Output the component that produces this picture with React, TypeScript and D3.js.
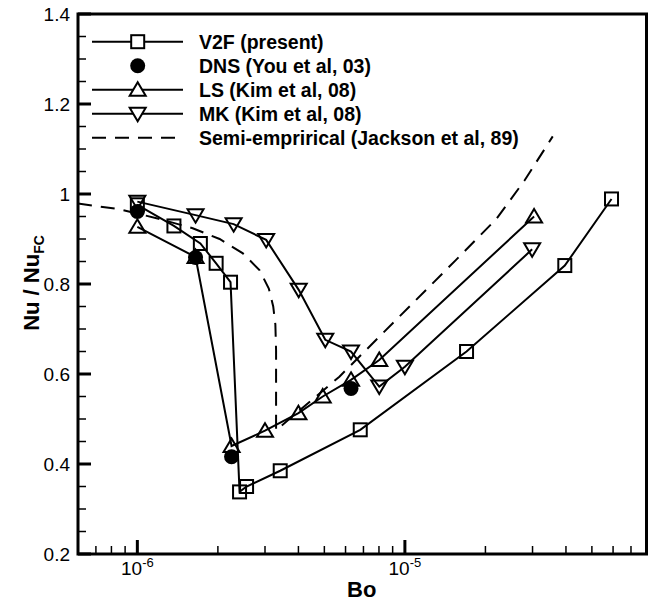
import * as d3 from "d3";

// Bo (x) / Nu/Nu_FC (y) values
const v2fBo = [1.0e-6, 1.37e-6, 1.72e-6, 1.97e-6, 2.23e-6, 2.41e-6, 2.56e-6, 3.42e-6, 6.81e-6, 1.7e-5, 3.96e-5, 5.92e-5];
const v2fNu = [0.976, 0.929, 0.89, 0.846, 0.804, 0.338, 0.35, 0.385, 0.476, 0.65, 0.841, 0.989];

const dnsBo = [1.0e-6, 1.65e-6, 2.25e-6, 6.29e-6];
const dnsNu = [0.961, 0.859, 0.416, 0.568];

const lsBo = [1.0e-6, 1.65e-6, 2.25e-6, 3.0e-6, 4.0e-6, 4.93e-6, 6.29e-6, 8.02e-6, 3.04e-5];
const lsNu = [0.927, 0.86, 0.44, 0.474, 0.513, 0.55, 0.587, 0.631, 0.95];

const mkBo = [1.0e-6, 1.65e-6, 2.29e-6, 3.03e-6, 4.01e-6, 5.04e-6, 6.29e-6, 8.02e-6, 1.0e-5, 2.99e-5];
const mkNu = [0.983, 0.953, 0.933, 0.898, 0.787, 0.676, 0.65, 0.572, 0.616, 0.877];

const jacksonBo = [6e-7, 8.6e-7, 1.2e-6, 1.61e-6, 2.03e-6, 2.48e-6, 2.86e-6, 3.1e-6, 3.22e-6, 3.28e-6, 3.3e-6, 3.3e-6, 3.3e-6, 5.69e-6, 9.26e-6, 1.55e-5, 2.2e-5, 2.8e-5, 3.57e-5];
const jacksonNu = [0.979, 0.966, 0.945, 0.924, 0.9, 0.868, 0.831, 0.79, 0.75, 0.71, 0.653, 0.55, 0.475, 0.594, 0.72, 0.853, 0.945, 1.03, 1.128];

const legendLabels = [
  "V2F (present)",
  "DNS (You et al, 03)",
  "LS (Kim et al, 08)",
  "MK (Kim et al, 08)",
  "Semi-emprirical (Jackson et al, 89)",
];

const yTicks = [0.2, 0.4, 0.6, 0.8, 1, 1.2, 1.4];
const xMajor = [1e-6, 1e-5];
const xLabels = ["-6", "-5"];

const zip = (a: number[], b: number[]) => a.map((v, i) => [v, b[i]] as [number, number]);

const W = 656;
const H = 603;
const left = 78;
const right = 646.5;
const top = 14;
const bottom = 554;

const x = d3.scaleLog().domain([6e-7, 8e-5]).range([left, right]);
const y = d3.scaleLinear().domain([0.2, 1.4]).range([bottom, top]);

const line = d3
  .line<[number, number]>()
  .x((d) => x(d[0]))
  .y((d) => y(d[1]));

const FONT = "'Liberation Sans', Arial, sans-serif";

function Marker({ kind, cx, cy, fill = "none" }: { kind: string; cx: number; cy: number; fill?: string }) {
  if (kind === "square")
    return <rect x={cx - 6.5} y={cy - 6.5} width={13} height={13} fill={fill} stroke="#000" strokeWidth={2} />;
  if (kind === "circle") return <circle cx={cx} cy={cy} r={7.5} fill="#000" />;
  if (kind === "up")
    return <path d={`M${cx},${cy - 7.5}L${cx + 8},${cy + 6}L${cx - 8},${cy + 6}Z`} fill={fill} stroke="#000" strokeWidth={2} />;
  return <path d={`M${cx},${cy + 7.5}L${cx + 8},${cy - 6}L${cx - 8},${cy - 6}Z`} fill={fill} stroke="#000" strokeWidth={2} />;
}

export default function App() {
  const v2f = zip(v2fBo, v2fNu);
  const dns = zip(dnsBo, dnsNu);
  const ls = zip(lsBo, lsNu);
  const mk = zip(mkBo, mkNu);
  const jackson = zip(jacksonBo, jacksonNu);

  // minor ticks
  const xMinor: number[] = [];
  for (let e = -7; e <= -5; e++) {
    for (let m = 2; m <= 9; m++) {
      const v = m * Math.pow(10, e);
      if (v > 6.01e-7 && v < 7.99e-5) xMinor.push(v);
    }
  }
  const yMinor = d3.range(0.25, 1.4, 0.05).filter((v) => Math.abs(v * 5 - Math.round(v * 5)) > 0.01);

  const legendRows = [0, 1, 2, 3, 4].map((i) => 41.7 + i * 24);
  const legendKinds = ["square", "circle", "up", "down", "dash"];

  return (
    <svg width={W} height={H} style={{ position: "absolute", left: 0, top: 0 }} fontFamily={FONT}>
      <rect width={W} height={H} fill="#fff" />

      {/* series */}
      <path d={line(jackson) || ""} fill="none" stroke="#000" strokeWidth={2} strokeDasharray="14,9" />
      <path d={line(v2f) || ""} fill="none" stroke="#000" strokeWidth={2} />
      <path d={line(ls) || ""} fill="none" stroke="#000" strokeWidth={2} />
      <path d={line(mk) || ""} fill="none" stroke="#000" strokeWidth={2} />
      {v2f.map((d, i) => (
        <Marker key={"s" + i} kind="square" cx={x(d[0])} cy={y(d[1])} />
      ))}
      {ls.map((d, i) => (
        <Marker key={"u" + i} kind="up" cx={x(d[0])} cy={y(d[1])} />
      ))}
      {mk.map((d, i) => (
        <Marker key={"d" + i} kind="down" cx={x(d[0])} cy={y(d[1])} />
      ))}
      {dns.map((d, i) => (
        <Marker key={"c" + i} kind="circle" cx={x(d[0])} cy={y(d[1])} />
      ))}

      {/* axes frame */}
      <rect x={left} y={top} width={right - left} height={bottom - top} fill="none" stroke="#000" strokeWidth={3} />

      {/* y ticks */}
      {yTicks.map((t) => (
        <g key={"yt" + t}>
          <line x1={left} x2={left + 13} y1={y(t)} y2={y(t)} stroke="#000" strokeWidth={3} />
          <text x={70} y={y(t) + 6.8} textAnchor="end" fontSize={19}>
            {t === 1 ? "1" : t.toFixed(1)}
          </text>
        </g>
      ))}
      {yMinor.map((t) => (
        <line key={"ym" + t} x1={left} x2={left + 8} y1={y(t)} y2={y(t)} stroke="#000" strokeWidth={1.5} />
      ))}

      {/* x ticks */}
      {xMajor.map((t, i) => (
        <g key={"xt" + t}>
          <line x1={x(t)} x2={x(t)} y1={bottom} y2={bottom - 14} stroke="#000" strokeWidth={3} />
          <text x={x(t)} y={575} textAnchor="middle" fontSize={19}>
            10
            <tspan fontSize={13} dy={-8}>
              {xLabels[i]}
            </tspan>
          </text>
        </g>
      ))}
      {xMinor.map((t) => (
        <line key={"xm" + t} x1={x(t)} x2={x(t)} y1={bottom} y2={bottom - 8} stroke="#000" strokeWidth={1.5} />
      ))}

      {/* axis titles */}
      <text x={361.7} y={597} textAnchor="middle" fontSize={22} fontWeight="bold">
        Bo
      </text>
      <text transform="translate(39,283) rotate(-90)" textAnchor="middle" fontSize={22} fontWeight="bold">
        Nu / Nu
        <tspan fontSize={14} dy={5}>
          FC
        </tspan>
      </text>

      {/* legend */}
      {legendRows.map((ly, i) => (
        <g key={"lg" + i}>
          {legendKinds[i] === "dash" ? (
            <line x1={92} x2={183} y1={ly} y2={ly} stroke="#000" strokeWidth={2} strokeDasharray="14,9" />
          ) : legendKinds[i] !== "circle" ? (
            <line x1={92} x2={183} y1={ly} y2={ly} stroke="#000" strokeWidth={2} />
          ) : null}
          {legendKinds[i] !== "dash" && <Marker kind={legendKinds[i]} cx={137.7} cy={ly} fill="#fff" />}
          <text x={199} y={ly + 7} fontSize={19.5} fontWeight="bold">
            {legendLabels[i]}
          </text>
        </g>
      ))}
    </svg>
  );
}
